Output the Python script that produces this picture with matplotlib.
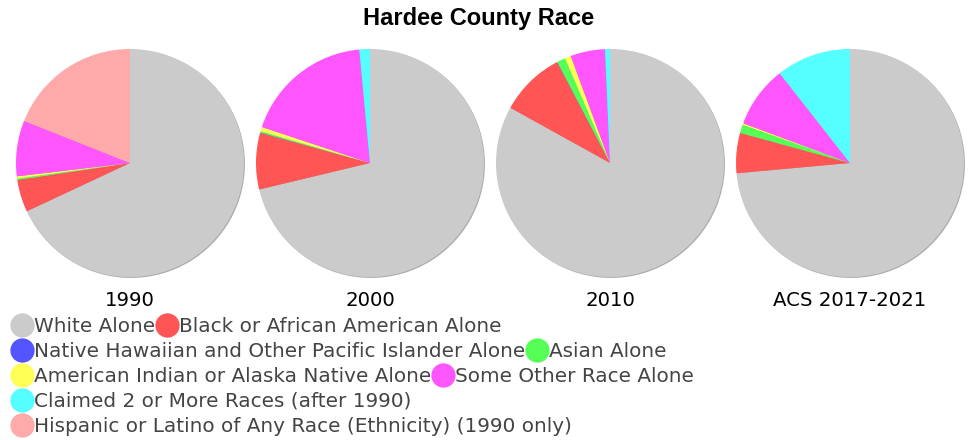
import matplotlib.pyplot as plt
from matplotlib.lines import Line2D

plt.rcParams['font.family'] = 'DejaVu Sans'

categories = ['White Alone', 'Black or African American Alone',
              'Native Hawaiian and Other Pacific Islander Alone', 'Asian Alone',
              'American Indian or Alaska Native Alone', 'Some Other Race Alone',
              'Claimed 2 or More Races (after 1990)',
              'Hispanic or Latino of Any Race (Ethnicity) (1990 only)']
colors = ['#cbcbcb', '#ff5555', '#5555ff', '#55ff55', '#ffff55', '#ff55ff', '#55ffff', '#ffaaaa']

years = ['1990', '2000', '2010', 'ACS 2017-2021']
v1990 = [68.1, 4.6, 0.0, 0.2, 0.3, 7.9, 0.0, 19.0]
v2000 = [71.3, 8.0, 0.05, 0.2, 0.6, 18.4, 1.5, 0.0]
v2010 = [83.1, 9.25, 0.05, 1.2, 0.86, 4.9, 0.7, 0.0]
vacs = [73.6, 5.7, 0.0, 1.2, 0.2, 8.75, 10.6, 0.0]
values = [v1990, v2000, v2010, vacs]

# legend rows as they wrap in the original
legend_rows = [[0, 1], [2, 3], [4, 5], [6], [7]]

W, H = 972, 440
fig = plt.figure(figsize=(W / 100, H / 100), dpi=100)

fig.text(479 / W, 1 - 19 / H, 'Hardee County Race', ha='center', va='center',
         fontsize=17, fontweight='bold', family='Liberation Sans')

r_px = 114
box = 120
centers_x = [130, 370, 610, 850]
cy = 163
for i in range(4):
    ax = fig.add_axes([(centers_x[i] - box) / W, (H - cy - box) / H, 2 * box / W, 2 * box / H])
    ax.pie(values[i], colors=colors, startangle=90, counterclock=False,
           wedgeprops={'linewidth': 0},
           shadow={'ox': 0.006, 'oy': -0.006, 'shade': 0.55})
    lim = box / r_px
    ax.set_xlim(-lim, lim)
    ax.set_ylim(-lim, lim)
    ax.set_aspect('equal')
    ax.axis('off')
    fig.text(centers_x[i] / W, 1 - 301 / H, years[i], ha='center', va='center',
             fontsize=14.2, color='black')

row_y = [326, 351, 376, 401, 426]
for row, y in zip(legend_rows, row_y):
    handles = [Line2D([], [], marker='o', linestyle='none', markersize=17.5,
                      markerfacecolor=colors[k], markeredgewidth=0) for k in row]
    leg = fig.legend(handles, [categories[k] for k in row], loc='center left',
                     bbox_to_anchor=(10 / W, 1 - y / H), ncol=len(row), frameon=False,
                     fontsize=14.4, handlelength=1.15, handletextpad=0.05,
                     columnspacing=0.0, borderpad=0, borderaxespad=0,
                     labelcolor='#444444')

fig.savefig('out.png', dpi=100)
